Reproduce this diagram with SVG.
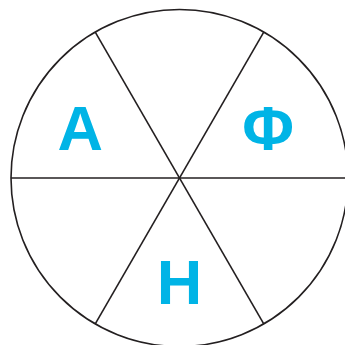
<svg xmlns="http://www.w3.org/2000/svg" width="345" height="345" viewBox="0 0 345 345">
<style>
.ln{stroke:#231f20;stroke-width:1.6;fill:none}
.lt{font-family:"Liberation Sans",Arial,sans-serif;font-weight:bold;font-size:63px;fill:#00b4e6;text-anchor:middle}
</style>
<rect width="345" height="345" fill="#fff"/>
<g id="connectors">
<circle class="ln" cx="179.5" cy="178" r="168.5"/>
<line class="ln" x1="11" y1="178" x2="348" y2="178"/>
<line class="ln" x1="95.25" y1="32.1" x2="263.75" y2="323.9"/>
<line class="ln" x1="263.75" y1="32.1" x2="95.25" y2="323.9"/>
</g>
<g id="nodeA"><text class="lt" x="80.3" y="149.5">A</text></g>
<g id="nodePhi"><text class="lt" x="268" y="149.5">Φ</text></g>
<g id="nodeH"><text class="lt" x="179.5" y="304">H</text></g>
</svg>
